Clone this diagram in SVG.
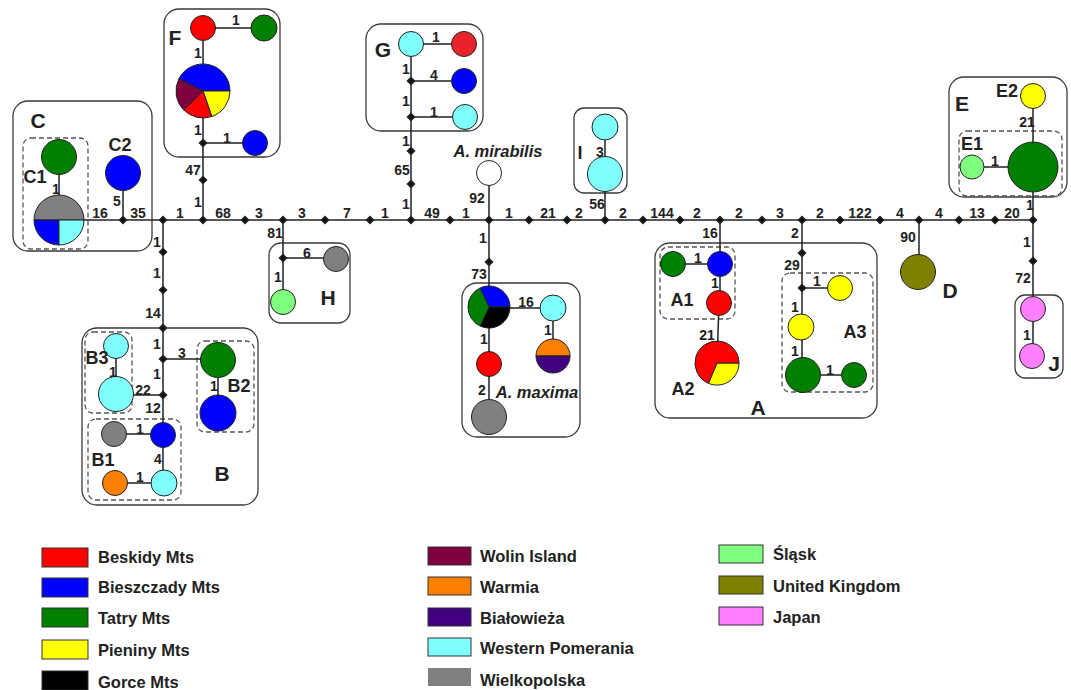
<svg xmlns="http://www.w3.org/2000/svg" width="1071" height="690" viewBox="0 0 1071 690">
<style>
.box{fill:none;stroke:#3a3a3a;stroke-width:1.3}
.dash{fill:none;stroke:#555;stroke-width:1.3;stroke-dasharray:5 3}
.ln{stroke:#222;stroke-width:1.5;fill:none}
.hap circle,.hap path{stroke:#222;stroke-width:1}
.n{font-family:"Liberation Sans",Arial,sans-serif;font-weight:bold;font-size:14px;fill:#222;text-anchor:middle}
.gl{font-family:"Liberation Sans",Arial,sans-serif;font-weight:bold;font-size:21px;fill:#222;text-anchor:middle}
.sl{font-family:"Liberation Sans",Arial,sans-serif;font-weight:bold;font-size:18px;fill:#222;text-anchor:middle}
.sp{font-family:"Liberation Sans",Arial,sans-serif;font-weight:bold;font-style:italic;font-size:16.5px;fill:#222;text-anchor:middle}
.lg{font-family:"Liberation Sans",Arial,sans-serif;font-weight:bold;font-size:16.5px;fill:#222}
.lr{stroke:#333;stroke-width:1}
.red{fill:#ff0000}.blu{fill:#0000ff}.grn{fill:#007f00}.yel{fill:#ffff00}.blk{fill:#000}
.wol{fill:#7f003f}.war{fill:#ff8000}.bia{fill:#400080}.cya{fill:#80ffff}.gry{fill:#808080}
.sla{fill:#80ff80}.uk{fill:#808000}.jap{fill:#ff80ff}.wht{fill:#fff}
</style>
<defs>
<path id="dot" d="M0,-3.5 L3.5,0 L0,3.5 L-3.5,0 Z" fill="#111"/>
</defs>

<!-- group frames -->
<g id="frames">
<rect class="box" x="13" y="101" width="139" height="150" rx="15"/>
<rect class="box" x="164" y="9" width="116" height="148" rx="15"/>
<rect class="box" x="366" y="24" width="117" height="107" rx="15"/>
<rect class="box" x="269" y="243" width="81" height="80" rx="12"/>
<rect class="box" x="82" y="328" width="176" height="177" rx="15"/>
<rect class="box" x="462" y="283" width="118" height="154" rx="15"/>
<rect class="box" x="574" y="108" width="53" height="85" rx="10"/>
<rect class="box" x="655" y="243" width="222" height="175" rx="15"/>
<rect class="box" x="949" y="77" width="118" height="120" rx="15"/>
<rect class="box" x="1015" y="295" width="48" height="83" rx="10"/>
<rect class="dash" x="23" y="138" width="65" height="111" rx="8"/>
<rect class="dash" x="85" y="332" width="47" height="81" rx="8"/>
<rect class="dash" x="197" y="341" width="57" height="91" rx="8"/>
<rect class="dash" x="88" y="419" width="93" height="81" rx="8"/>
<rect class="dash" x="660" y="247" width="75" height="72" rx="8"/>
<rect class="dash" x="782" y="273" width="91" height="119" rx="8"/>
<rect class="dash" x="959" y="131" width="103" height="65" rx="8"/>
</g>

<!-- connectors -->
<g id="connectors" class="ln">
<path d="M84,220 H1034"/>
<path d="M59,157 V220 M123,173 V220"/>
<path d="M163,220 V435 M163,359 H218 V413 M116,395 H163 M116,346 V395"/>
<path d="M114,434 H163 V483 M115,483 H164"/>
<path d="M203,28 H264 M203,28 V220 M203,143 H255"/>
<path d="M411,44 H464 M411,44 V220 M411,81 H464 M411,117 H465"/>
<path d="M283,220 V302 M283,258 H336"/>
<path d="M489,173 V417 M489,308 H553 V356"/>
<path d="M605,127 V220"/>
<path d="M720,220 V303 M673,264 H720 M719,303 L717,363"/>
<path d="M802,220 V375 M802,288 H840 M802,375 H854"/>
<path d="M919,220 V272"/>
<path d="M1033,96 V356 M972,167 H1033"/>
<g id="links-nodes">
<use href="#dot" x="123" y="220"/><use href="#dot" x="163" y="220"/><use href="#dot" x="203" y="220"/>
<use href="#dot" x="245" y="220"/><use href="#dot" x="283" y="220"/><use href="#dot" x="325" y="220"/>
<use href="#dot" x="370" y="220"/><use href="#dot" x="411" y="220"/><use href="#dot" x="450" y="220"/>
<use href="#dot" x="489" y="220"/><use href="#dot" x="529" y="220"/><use href="#dot" x="567" y="220"/>
<use href="#dot" x="605" y="220"/><use href="#dot" x="643" y="220"/><use href="#dot" x="680" y="220"/>
<use href="#dot" x="720" y="220"/><use href="#dot" x="762" y="220"/><use href="#dot" x="802" y="220"/>
<use href="#dot" x="840" y="220"/><use href="#dot" x="880" y="220"/><use href="#dot" x="919" y="220"/>
<use href="#dot" x="959" y="220"/><use href="#dot" x="995" y="220"/><use href="#dot" x="1033" y="220"/>
<use href="#dot" x="163" y="252"/><use href="#dot" x="163" y="290"/><use href="#dot" x="163" y="328"/>
<use href="#dot" x="163" y="359"/><use href="#dot" x="163" y="395"/>
<use href="#dot" x="203" y="143"/><use href="#dot" x="203" y="180"/>
<use href="#dot" x="411" y="81"/><use href="#dot" x="411" y="117"/><use href="#dot" x="411" y="151"/><use href="#dot" x="411" y="184"/>
<use href="#dot" x="283" y="258"/><use href="#dot" x="489" y="262"/>
<use href="#dot" x="802" y="253"/><use href="#dot" x="802" y="288"/><use href="#dot" x="1033" y="261"/>
</g>
</g>

<!-- haplotype C -->
<g id="hap-C" class="hap">
<circle class="grn" cx="59" cy="157" r="17.5"/>
<path class="gry" d="M34,220 A25,25 0 0 1 84,220 Z"/>
<path class="blu" d="M59,220 L34,220 A25,25 0 0 0 59,245 Z"/>
<path class="cya" d="M59,220 L59,245 A25,25 0 0 0 84,220 Z"/>
<circle class="blu" cx="123" cy="173" r="17.5"/>
</g>
<!-- haplotype F -->
<g id="hap-F" class="hap">
<circle class="red" cx="203" cy="28" r="12.5"/>
<circle class="grn" cx="264" cy="28" r="13"/>
<path class="blu" d="M203,91 L178.94,78.74 A27,27 0 0 1 230,91 Z"/>
<path class="yel" d="M203,91 L230,91 A27,27 0 0 1 211.79,116.53 Z"/>
<path class="red" d="M203,91 L211.79,116.53 A27,27 0 0 1 183.58,109.76 Z"/>
<path class="wol" d="M203,91 L183.58,109.76 A27,27 0 0 1 178.94,78.74 Z"/>
<circle class="blu" cx="255" cy="143" r="12.5"/>
</g>
<!-- haplotype G -->
<g id="hap-G" class="hap">
<circle class="cya" cx="411" cy="44" r="12.5"/>
<circle fill="#e9222c" cx="464" cy="44" r="12.5"/>
<circle class="blu" cx="464" cy="81" r="12.5"/>
<circle class="cya" cx="465" cy="117" r="12.5"/>
</g>
<!-- haplotype H -->
<g id="hap-H" class="hap">
<circle class="gry" cx="336" cy="259" r="12.5"/>
<circle class="sla" cx="283" cy="302" r="12.5"/>
</g>
<!-- haplotype B -->
<g id="hap-B" class="hap">
<circle class="cya" cx="116" cy="346" r="12.5"/>
<circle class="cya" cx="116" cy="394" r="17.5"/>
<circle class="grn" cx="218" cy="360" r="17.5"/>
<circle class="blu" cx="218" cy="413" r="18"/>
<circle class="gry" cx="114" cy="434" r="12.5"/>
<circle class="blu" cx="163" cy="435" r="12.5"/>
<circle class="war" cx="115" cy="483" r="12.5"/>
<circle class="cya" cx="164" cy="483" r="13"/>
</g>
<!-- A. mirabilis -->
<g id="hap-mirabilis" class="hap">
<circle class="wht" cx="489" cy="173" r="12.5"/>
</g>
<!-- A. maxima -->
<g id="hap-maxima" class="hap">
<path class="blu" d="M489,307 L480.12,287.97 A21,21 0 0 1 510,307 Z"/>
<path class="blk" d="M489,307 L510,307 A21,21 0 0 1 480.12,326.03 Z"/>
<path class="grn" d="M489,307 L480.12,326.03 A21,21 0 0 1 480.12,287.97 Z"/>
<circle class="cya" cx="553" cy="308" r="13"/>
<path class="war" d="M536,356 A17,17 0 0 1 570,356 Z"/>
<path class="bia" d="M536,356 A17,17 0 0 0 570,356 Z"/>
<circle class="red" cx="489" cy="364" r="12.5"/>
<circle class="gry" cx="489" cy="417" r="17.5"/>
</g>
<!-- haplotype I -->
<g id="hap-I" class="hap">
<circle class="cya" cx="605" cy="127" r="13"/>
<circle class="cya" cx="605" cy="174" r="17.5"/>
</g>
<!-- haplotype A -->
<g id="hap-A" class="hap">
<circle class="grn" cx="673" cy="264" r="12.5"/>
<circle class="blu" cx="720" cy="264" r="12.5"/>
<circle class="red" cx="719" cy="303" r="12.5"/>
<path class="yel" d="M717,363 L739,363 A22,22 0 0 1 708.4,383.3 Z"/>
<path class="red" d="M717,363 L708.4,383.3 A22,22 0 1 1 739,363 Z"/>
<circle class="yel" cx="840" cy="288" r="12.5"/>
<circle class="yel" cx="801" cy="327" r="13"/>
<circle class="grn" cx="803" cy="375" r="17.5"/>
<circle class="grn" cx="854" cy="375" r="12.5"/>
</g>
<!-- haplotype D -->
<g id="hap-D" class="hap">
<circle class="uk" cx="918" cy="272" r="17.5"/>
</g>
<!-- haplotype E -->
<g id="hap-E" class="hap">
<circle class="yel" cx="1033" cy="96" r="12.5"/>
<circle class="grn" cx="1033" cy="167" r="25"/>
<circle class="sla" cx="972" cy="167" r="12"/>
</g>
<!-- haplotype J -->
<g id="hap-J" class="hap">
<circle class="jap" cx="1033" cy="309" r="12.5"/>
<circle class="jap" cx="1032" cy="356" r="12.5"/>
</g>

<!-- mutation counts -->
<g id="counts" class="n">
<text x="100" y="218">16</text><text x="138" y="218">35</text><text x="180" y="218">1</text>
<text x="223" y="218">68</text><text x="259" y="218">3</text><text x="302" y="218">3</text>
<text x="347" y="218">7</text><text x="385" y="218">1</text><text x="432" y="218">49</text>
<text x="466" y="218">1</text><text x="509" y="218">1</text><text x="548" y="218">21</text>
<text x="579" y="218">2</text><text x="623" y="218">2</text><text x="662" y="218">144</text>
<text x="697" y="218">2</text><text x="739" y="218">2</text><text x="780" y="218">3</text>
<text x="820" y="218">2</text><text x="860" y="218">122</text><text x="900" y="218">4</text>
<text x="939" y="218">4</text><text x="977" y="218">13</text><text x="1012" y="218">20</text>
<text x="56" y="194">1</text><text x="117" y="206">5</text>
<text x="157" y="247">1</text><text x="157" y="278">1</text><text x="153" y="318">14</text>
<text x="157" y="349">1</text><text x="157" y="379">1</text><text x="153" y="413">12</text>
<text x="182" y="358">3</text><text x="143" y="395">22</text>
<text x="113" y="377">1</text><text x="214" y="391">1</text>
<text x="140" y="434">1</text><text x="158" y="464">4</text><text x="140" y="482">1</text>
<text x="236" y="25">1</text><text x="198" y="58">1</text><text x="198" y="135">1</text>
<text x="227" y="143">1</text><text x="193" y="175">47</text><text x="198" y="207">1</text>
<text x="436" y="42">1</text><text x="434" y="80">4</text><text x="406" y="74">1</text>
<text x="434" y="117">1</text><text x="406" y="106">1</text><text x="406" y="146">1</text>
<text x="402" y="175">65</text><text x="406" y="209">1</text>
<text x="275" y="238">81</text><text x="307" y="258">6</text><text x="278" y="282">1</text>
<text x="477" y="203">92</text><text x="483" y="243">1</text><text x="479" y="279">73</text>
<text x="526" y="307">16</text><text x="548" y="335">1</text><text x="484" y="344">1</text><text x="482" y="395">2</text>
<text x="600" y="157">3</text><text x="597" y="209">56</text>
<text x="710" y="238">16</text><text x="698" y="263">1</text><text x="715" y="288">1</text><text x="707" y="340">21</text>
<text x="795" y="238">2</text><text x="792" y="270">29</text><text x="817" y="286">1</text>
<text x="795" y="312">1</text><text x="795" y="356">1</text><text x="830" y="375">1</text>
<text x="908" y="242">90</text>
<text x="1027" y="127">21</text><text x="995" y="166">1</text><text x="1030" y="210">1</text>
<text x="1027" y="247">1</text><text x="1023" y="283">72</text><text x="1027" y="340">1</text>
</g>

<!-- group and subgroup names -->
<g id="names">
<text class="gl" x="38" y="128">C</text>
<text class="sl" x="120" y="151">C2</text>
<text class="sl" x="35" y="183">C1</text>
<text class="gl" x="175" y="45">F</text>
<text class="gl" x="383" y="57">G</text>
<text class="gl" x="328" y="305">H</text>
<text class="gl" x="222" y="481">B</text>
<text class="sl" x="103" y="466">B1</text>
<text class="sl" x="239" y="392">B2</text>
<text class="sl" x="97" y="364">B3</text>
<text class="sl" x="580" y="159">I</text>
<text class="gl" x="758" y="415">A</text>
<text class="sl" x="682" y="306">A1</text>
<text class="sl" x="683" y="395">A2</text>
<text class="sl" x="855" y="338">A3</text>
<text class="gl" x="950" y="298">D</text>
<text class="gl" x="962" y="111">E</text>
<text class="sl" x="972" y="150">E1</text>
<text class="sl" x="1007" y="97">E2</text>
<text class="gl" x="1054" y="371">J</text>
<text class="sp" x="498" y="157">A. mirabilis</text>
<text class="sp" x="537" y="398">A. maxima</text>
</g>

<!-- legend -->
<g id="legend">
<rect class="lr red" x="42" y="548" width="46" height="19"/><text class="lg" x="98" y="563">Beskidy Mts</text>
<rect class="lr blu" x="42" y="578" width="46" height="19"/><text class="lg" x="98" y="593">Bieszczady Mts</text>
<rect class="lr grn" x="42" y="608" width="46" height="19"/><text class="lg" x="98" y="623.5">Tatry Mts</text>
<rect class="lr yel" x="42" y="640" width="46" height="19"/><text class="lg" x="98" y="655.5">Pieniny Mts</text>
<rect class="lr blk" x="42" y="671" width="46" height="19"/><text class="lg" x="98" y="687.5">Gorce Mts</text>
<rect class="lr wol" x="428" y="547" width="43" height="18"/><text class="lg" x="480" y="562">Wolin Island</text>
<rect class="lr war" x="428" y="577" width="43" height="18"/><text class="lg" x="480" y="592.5">Warmia</text>
<rect class="lr bia" x="428" y="608" width="43" height="18"/><text class="lg" x="480" y="623.5">Białowieża</text>
<rect class="lr cya" x="428" y="638" width="43" height="18"/><text class="lg" x="480" y="654">Western Pomerania</text>
<rect class="gry" x="428" y="668" width="43" height="18"/><text class="lg" x="480" y="686">Wielkopolska</text>
<rect class="lr sla" x="719" y="545" width="44" height="18"/><text class="lg" x="773" y="560">Śląsk</text>
<rect class="lr uk" x="719" y="576" width="44" height="18"/><text class="lg" x="773" y="591.5">United Kingdom</text>
<rect class="lr jap" x="719" y="607" width="44" height="18"/><text class="lg" x="773" y="623">Japan</text>
</g>
</svg>
